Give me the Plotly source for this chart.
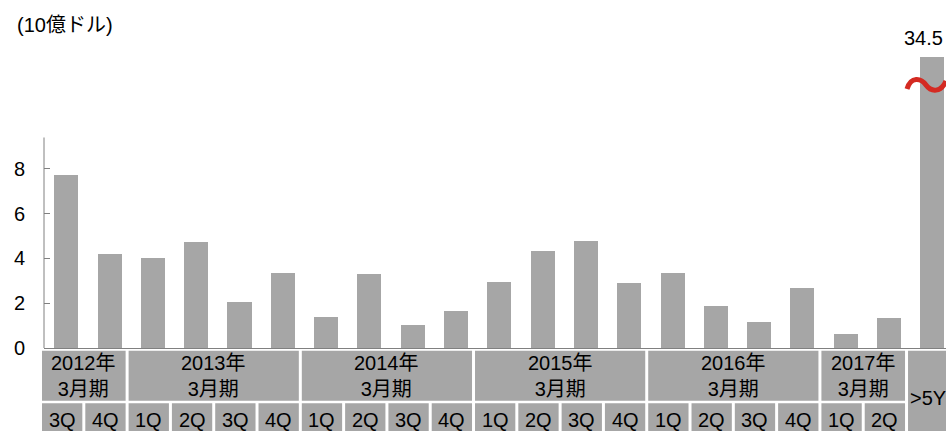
import plotly.graph_objects as go

# ---- data ----
quarters = ["3Q", "4Q",
            "1Q", "2Q", "3Q", "4Q",
            "1Q", "2Q", "3Q", "4Q",
            "1Q", "2Q", "3Q", "4Q",
            "1Q", "2Q", "3Q", "4Q",
            "1Q", "2Q", ">5Y"]
values = [7.74, 4.2, 4.0, 4.72, 2.07, 3.37, 1.37, 3.32, 1.04, 1.64,
          2.93, 4.32, 4.79, 2.9, 3.37, 1.89, 1.15, 2.7, 0.61, 1.34, 34.5]
fiscal_years = ["2012年<br>3月期", "2013年<br>3月期", "2014年<br>3月期",
                "2015年<br>3月期", "2016年<br>3月期", "2017年<br>3月期"]
fy_spans = [(0, 1), (2, 5), (6, 9), (10, 13), (14, 17), (18, 19)]
y_ticks = [0, 2, 4, 6, 8]
unit_label = "(10億ドル)"

# ---- style ----
W, H = 946, 431
ML, MR, MT, MB = 44, 0, 30, 83
FONT = "Arial, 'Liberation Sans', 'Noto Sans CJK JP', sans-serif"
BAR = "#a6a6a6"
AXIS = "#808080"
BREAK_CAP = 13.0          # displayed height of the broken (off-scale) bar
Y_MAX = 14.2
X_RANGE = [-0.515, 20.316]
AXIS_TOP = 9.4

n = len(values)
shown = [min(v, BREAK_CAP) for v in values]

pw = W - ML - MR
ph = H - MT - MB


def xp(x):  # data x -> paper x
    return (x - X_RANGE[0]) / (X_RANGE[1] - X_RANGE[0])


def pxx(p):  # pixel x -> paper x
    return (p - ML) / pw


def pxy(p):  # pixel y -> paper y
    return (H - MB - p) / ph


fig = go.Figure(go.Bar(
    x=list(range(n)), y=shown, width=0.555,
    marker=dict(color=BAR, line=dict(width=0)),
    hoverinfo="skip",
))

shapes = []
annotations = []

# y axis line (partial)
shapes.append(dict(type="line", xref="paper", yref="y", x0=0, x1=0,
                   y0=0, y1=AXIS_TOP, line=dict(color=AXIS, width=1)))

BOX_L, BOX_R = -0.561, 0.37
row1 = (pxy(350.7), pxy(400.7))
row2 = (pxy(403.3), pxy(440))

# fiscal-year boxes
for txt, (a, b) in zip(fiscal_years, fy_spans):
    x0, x1 = xp(a + BOX_L), xp(b + BOX_R)
    shapes.append(dict(type="rect", xref="paper", yref="paper",
                       x0=x0, x1=x1, y0=row1[1], y1=row1[0],
                       fillcolor=BAR, line=dict(width=0), layer="above"))
    annotations.append(dict(xref="paper", yref="paper", x=(x0 + x1) / 2,
                            y=pxy(376), text=txt, showarrow=False,
                            xanchor="center", yanchor="middle",
                            font=dict(size=20, color="black", family=FONT)))

# quarter boxes
for i, q in enumerate(quarters):
    x0, x1 = xp(i + BOX_L), xp(i + BOX_R)
    if q == ">5Y":
        shapes.append(dict(type="rect", xref="paper", yref="paper",
                           x0=x0, x1=xp(i + 1), y0=row2[1], y1=row1[0],
                           fillcolor=BAR, line=dict(width=0), layer="above"))
        annotations.append(dict(xref="paper", yref="paper", x=(x0 + x1) / 2,
                                y=pxy(397.5), text=q, showarrow=False,
                                xanchor="center", yanchor="middle",
                                font=dict(size=20, color="black", family=FONT)))
    else:
        shapes.append(dict(type="rect", xref="paper", yref="paper",
                           x0=x0, x1=x1, y0=row2[1], y1=row2[0],
                           fillcolor=BAR, line=dict(width=0), layer="above"))
        annotations.append(dict(xref="paper", yref="paper", x=(x0 + x1) / 2,
                                y=pxy(420), text=q, showarrow=False,
                                xanchor="center", yanchor="middle",
                                font=dict(size=20, color="black", family=FONT)))

# value label of the broken bar (kept inside the page)
for i, v in enumerate(values):
    if v > BREAK_CAP:
        annotations.append(dict(xref="paper", yref="y", x=pxx(945),
                                y=BREAK_CAP, yshift=6, text=f"{v:.1f}",
                                showarrow=False, xanchor="right",
                                yanchor="bottom",
                                font=dict(size=20, color="black", family=FONT)))

# red tilde (axis-break mark)
pts = [(907, 89), (911, 76), (921, 78), (926, 85), (931, 92), (941, 93), (946, 81)]
pp = [(pxx(a), pxy(b)) for a, b in pts]
path = "M {},{} C {},{} {},{} {},{} C {},{} {},{} {},{}".format(
    *[c for p in pp for c in p])
shapes.append(dict(type="path", xref="paper", yref="paper", path=path,
                   line=dict(color="#d42a22", width=5), layer="above"))

# unit label
annotations.append(dict(xref="paper", yref="paper", x=pxx(15), y=pxy(25),
                        text=unit_label, showarrow=False, xanchor="left",
                        yanchor="middle",
                        font=dict(size=20, color="black", family=FONT)))

fig.update_layout(
    width=W, height=H,
    margin=dict(l=ML, r=MR, t=MT, b=MB, pad=0),
    paper_bgcolor="white", plot_bgcolor="white",
    showlegend=False,
    font=dict(family=FONT, size=20, color="black"),
    xaxis=dict(range=X_RANGE, showticklabels=False, showgrid=False,
               zeroline=False, showline=True, linecolor=AXIS, linewidth=1,
               ticks="", fixedrange=True),
    yaxis=dict(range=[0, Y_MAX], tickvals=y_ticks, showgrid=False,
               zeroline=False, showline=False, ticks="inside", ticklen=6,
               tickcolor=AXIS, tickwidth=1, ticklabelstandoff=18,
               tickfont=dict(size=20, color="black", family=FONT),
               fixedrange=True),
    shapes=shapes,
    annotations=annotations,
    bargap=0,
)

fig.write_html("out.html")
